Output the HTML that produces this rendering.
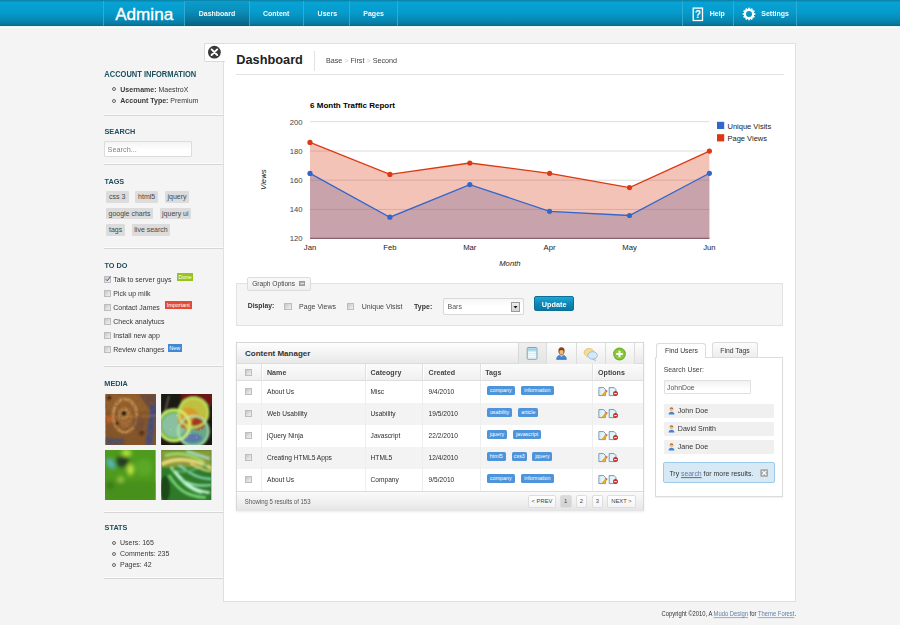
<!DOCTYPE html>
<html><head><meta charset="utf-8"><title>Admina</title>
<style>
*{box-sizing:border-box;margin:0;padding:0}
html,body{width:900px;height:625px;overflow:hidden}
body{background:#f4f4f4;font-family:"Liberation Sans",Arial,sans-serif;color:#333;position:relative}
.a{position:absolute}
.t{position:absolute;line-height:1;white-space:nowrap}
#hdr{position:absolute;left:0;top:0;width:900px;height:26px;background:linear-gradient(#0b86ac 0,#0b86ac 1px,#08a2d4 2px,#059ccd 12px,#0789b5 20px,#077ca4 23.5px,#0a6881 26px)}
#hdr2{position:absolute;left:0;top:26px;width:900px;height:2px;background:linear-gradient(#e6f4f4,#fff)}
.sep{position:absolute;top:1px;width:1px;height:25px;background:#3cb2da;opacity:.75}
.nav{position:absolute;top:0;height:26px;color:#fff;font-weight:bold;font-size:7px;line-height:1}
.navt{position:absolute;top:10.1px;white-space:nowrap;color:#f4fbfd;transform:scaleY(1.08);transform-origin:0 85%}
#act{position:absolute;left:185px;top:1px;width:64px;height:25px;background:linear-gradient(#0a9dcc 0,#0a8fbb 40%,#0a7398 78%,#095e7a 100%)}
.h3{position:absolute;font-size:7.3px;font-weight:bold;color:#1c4f5e;line-height:1;white-space:nowrap}
.ssep{position:absolute;left:104px;width:120px;height:2px;border-top:1px solid #fbfbfb;border-bottom:1px solid #d6d6d6}
.li{position:absolute;font-size:7px;line-height:1;white-space:nowrap;color:#383838}
.bul{position:absolute;width:4px;height:4px;border:1px solid #666;border-radius:50%}
.chip{position:absolute;height:11.5px;background:#dcdcdc;border-radius:1px;font-size:7px;line-height:11.5px;color:#484848;text-align:center;white-space:nowrap}
.cb{position:absolute;width:7.5px;height:7.5px;border:1px solid #bdbdbd;background:linear-gradient(135deg,#c6c6c6,#e2e2e2 60%,#efefef)}
.todo{position:absolute;font-size:7px;line-height:1;color:#363636;white-space:nowrap}
.badge{position:absolute;height:7.5px;font-size:5.5px;line-height:8.4px;color:#fff;text-align:center;white-space:nowrap}
#main{position:absolute;left:223px;top:42.5px;width:573px;height:559.5px;background:#fff;border:1px solid #e0e0e0}
.th{font-size:7.1px;font-weight:bold;color:#444}
.td{font-size:6.6px;color:#2c2c2c}
.tag{position:absolute;height:9px;background:#4d94db;border-radius:1.5px;color:#fff;font-size:5.3px;line-height:9px;text-align:center;white-space:nowrap}
.pg{position:absolute;top:495.4px;height:12.2px;border:1px solid #dedede;border-radius:2px;font-size:5.8px;line-height:10.6px;text-align:center;color:#444;white-space:nowrap}
.t,.li,.todo,.h3{transform:scaleY(1.1);transform-origin:0 85%}
.nos{transform:none!important}
</style></head><body>
<!-- HEADER -->
<div id="hdr"></div><div id="hdr2"></div>
<div id="act"></div>
<div class="sep" style="left:103px"></div>
<div class="sep" style="left:184px"></div>
<div class="sep" style="left:249px"></div>
<div class="sep" style="left:303px"></div>
<div class="sep" style="left:349px"></div>
<div class="sep" style="left:397px"></div>
<div class="sep" style="left:682px"></div>
<div class="sep" style="left:733px"></div>
<div class="sep" style="left:796px"></div>
<div class="t nos" style="left:115.2px;top:5.5px;font-size:17.1px;color:#fff;-webkit-text-stroke:0.35px #fff">Admina</div>
<div class="nav"><span class="navt" style="left:198.7px">Dashboard</span><span class="navt" style="left:263px">Content</span><span class="navt" style="left:317.6px">Users</span><span class="navt" style="left:363.3px">Pages</span><span class="navt" style="left:709.7px">Help</span><span class="navt" style="left:761.3px">Settings</span></div>
<!-- help icon -->
<svg class="a" style="left:692px;top:6.5px" width="12" height="15" viewBox="0 0 12 15"><rect x="1.2" y="1.1" width="9.3" height="12.4" fill="none" stroke="#fff" stroke-width="1.3"/><text x="5.9" y="11" font-family="Liberation Sans" font-weight="bold" font-size="10" fill="#fff" text-anchor="middle">?</text></svg>
<!-- gear icon -->
<svg class="a" style="left:741.7px;top:6.8px" width="14" height="14" viewBox="-7 -7 14 14"><g fill="#fff"><rect x="-0.85" y="-6.3" width="1.7" height="2.5" transform="rotate(0)"/><rect x="-0.85" y="-6.3" width="1.7" height="2.5" transform="rotate(30)"/><rect x="-0.85" y="-6.3" width="1.7" height="2.5" transform="rotate(60)"/><rect x="-0.85" y="-6.3" width="1.7" height="2.5" transform="rotate(90)"/><rect x="-0.85" y="-6.3" width="1.7" height="2.5" transform="rotate(120)"/><rect x="-0.85" y="-6.3" width="1.7" height="2.5" transform="rotate(150)"/><rect x="-0.85" y="-6.3" width="1.7" height="2.5" transform="rotate(180)"/><rect x="-0.85" y="-6.3" width="1.7" height="2.5" transform="rotate(210)"/><rect x="-0.85" y="-6.3" width="1.7" height="2.5" transform="rotate(240)"/><rect x="-0.85" y="-6.3" width="1.7" height="2.5" transform="rotate(270)"/><rect x="-0.85" y="-6.3" width="1.7" height="2.5" transform="rotate(300)"/><rect x="-0.85" y="-6.3" width="1.7" height="2.5" transform="rotate(330)"/></g><circle r="4.1" fill="none" stroke="#fff" stroke-width="2.2"/></svg>

<!-- SIDEBAR -->
<div class="h3" style="left:104.3px;top:71.1px;font-size:7.5px">ACCOUNT INFORMATION</div>
<div class="bul" style="left:112px;top:86.9px"></div>
<div class="li" style="left:120.3px;top:85.6px"><b>Username:</b> MaestroX</div>
<div class="bul" style="left:112px;top:98.7px"></div>
<div class="li" style="left:120.3px;top:96.7px"><b>Account Type:</b> Premium</div>
<div class="ssep" style="top:114px"></div>

<div class="h3" style="left:104.5px;top:127.9px">SEARCH</div>
<div class="a" style="left:104px;top:141px;width:88px;height:16px;border:1px solid #dcdcdc;background:linear-gradient(#f4f4f4,#fff 60%);border-radius:1px"></div>
<div class="t" style="left:107.6px;top:145.7px;font-size:7.3px;color:#858585">Search...</div>
<div class="ssep" style="top:163px"></div>

<div class="h3" style="left:104.5px;top:177.8px">TAGS</div>
<div class="chip" style="left:106px;top:191px;width:22.5px">css 3</div>
<div class="chip" style="left:135px;top:191px;width:23.3px">html5</div>
<div class="chip" style="left:165px;top:191px;width:24px">jquery</div>
<div class="chip" style="left:106px;top:207.7px;width:47px">google charts</div>
<div class="chip" style="left:160px;top:207.7px;width:30.6px">jquery ui</div>
<div class="chip" style="left:106px;top:224.2px;width:19.3px">tags</div>
<div class="chip" style="left:132px;top:224.2px;width:38px">live search</div>
<div class="ssep" style="top:247px"></div>

<div class="h3" style="left:104.5px;top:261.5px">TO DO</div>
<div class="cb" style="left:103.5px;top:275.5px"></div>
<svg class="a" style="left:103.5px;top:275px" width="8" height="8" viewBox="0 0 8 8"><path d="M1.8 4.2 L3.3 5.8 L6.4 1.6" fill="none" stroke="#44557a" stroke-width="1"/></svg>
<div class="todo" style="left:113.2px;top:275.8px">Talk to server guys</div>
<div class="badge" style="left:177px;top:273px;width:16px;background:#97c41b">Done</div>
<div class="cb" style="left:103.5px;top:289.5px"></div>
<div class="todo" style="left:113.2px;top:289.8px">Pick up milk</div>
<div class="cb" style="left:103.5px;top:303.5px"></div>
<div class="todo" style="left:113.2px;top:303.8px">Contact James</div>
<div class="badge" style="left:165px;top:301.3px;width:26.5px;background:#e34b36">Important</div>
<div class="cb" style="left:103.5px;top:317.5px"></div>
<div class="todo" style="left:113.2px;top:317.8px">Check analytucs</div>
<div class="cb" style="left:103.5px;top:331.5px"></div>
<div class="todo" style="left:113.2px;top:331.8px">Install new app</div>
<div class="cb" style="left:103.5px;top:345.5px"></div>
<div class="todo" style="left:113.2px;top:345.8px">Review changes</div>
<div class="badge" style="left:168px;top:344px;width:13.5px;background:#3f8ad6">New</div>
<div class="ssep" style="top:365px"></div>

<div class="h3" style="left:104.3px;top:379.7px">MEDIA</div>
<svg class="a" style="left:104.8px;top:394.2px" width="51.5" height="51" viewBox="0 0 52 52">
<defs><filter id="bl1" x="-20%" y="-20%" width="140%" height="140%"><feGaussianBlur stdDeviation="1"/></filter><filter id="tx1"><feTurbulence type="fractalNoise" baseFrequency="0.35" numOctaves="2" seed="3"/><feColorMatrix values="0 0 0 0 0.2  0 0 0 0 0.1  0 0 0 0 0.02  0 0 0 1.2 -0.45"/></filter><clipPath id="cp1"><rect width="52" height="52"/></clipPath></defs>
<g clip-path="url(#cp1)"><rect width="52" height="52" fill="#86542a"/>
<g filter="url(#bl1)">
<rect x="0" y="0" width="52" height="18" fill="#9a6430" opacity=".7"/>
<path d="M34 0 L52 0 L52 26 Z" fill="#4a3a4a" opacity=".6"/>
<path d="M46 12 L52 10 L48 52 L41 52Z" fill="#2c4a9a" opacity=".8"/>
<path d="M0 44 L20 46 L18 52 L0 52Z" fill="#2a4a8a" opacity=".6"/>
<ellipse cx="20" cy="22" rx="12" ry="17" fill="none" stroke="#d8a060" stroke-width="2"/>
<ellipse cx="20" cy="24" rx="8" ry="11" fill="#b0743a" opacity=".7"/>
<circle cx="19" cy="20" r="5" fill="#d8a058"/>
<circle cx="19" cy="20" r="3.2" fill="#1a0f08"/>
<circle cx="12" cy="30" r="2.2" fill="#3a1a0a"/>
<circle cx="37" cy="40" r="2.2" fill="#3a1a0a"/>
<circle cx="4" cy="4" r="2.5" fill="#3a2010"/>
<path d="M0 24 L52 22" stroke="#d89850" stroke-width="1" opacity=".6"/>
<circle cx="4" cy="26" r="4" fill="#c8642a" opacity=".8"/>
<ellipse cx="34" cy="30" rx="6" ry="8" fill="#6a4a3a" opacity=".6"/>
</g>
<rect width="52" height="52" filter="url(#tx1)"/>
</g></svg>
<svg class="a" style="left:160.8px;top:394.2px" width="51.2" height="51" viewBox="0 0 52 52">
<defs><filter id="bl2" x="-20%" y="-20%" width="140%" height="140%"><feGaussianBlur stdDeviation="1.1"/></filter><clipPath id="cp2"><rect width="52" height="52"/></clipPath></defs>
<g clip-path="url(#cp2)"><rect width="52" height="52" fill="#1a1a12"/>
<g filter="url(#bl2)">
<rect x="20" y="-2" width="34" height="14" fill="#6a1414"/>
<circle cx="13" cy="32" r="17" fill="#78b850"/>
<circle cx="33" cy="19" r="16" fill="#c0c040"/>
<circle cx="33" cy="38" r="16" fill="#6aa888"/>
<circle cx="13" cy="32" r="12" fill="#8ac0a0"/>
<circle cx="28" cy="25" r="11" fill="#d89a2a"/>
<circle cx="38" cy="30" r="7" fill="#a03a20"/>
<circle cx="23" cy="30" r="5" fill="#c05a20"/>
<ellipse cx="32" cy="45" rx="10" ry="5" fill="#5a7aa8"/>
<circle cx="13" cy="32" r="16" fill="none" stroke="#d8f870" stroke-width="2.4"/>
<circle cx="33" cy="19" r="15" fill="none" stroke="#c0e860" stroke-width="2"/>
<circle cx="33" cy="38" r="15.5" fill="none" stroke="#b0f0b0" stroke-width="1.8"/>
<path d="M8 2 L4 18" stroke="#c0b8a0" stroke-width="0.8"/>
</g>
<g fill="#fff" opacity=".7"><circle cx="20" cy="28" r=".5"/><circle cx="30" cy="40" r=".5"/><circle cx="36" cy="44" r=".5"/><circle cx="10" cy="36" r=".5"/><circle cx="26" cy="34" r=".5"/><circle cx="40" cy="36" r=".5"/><circle cx="16" cy="22" r=".5"/><circle cx="42" cy="24" r=".5"/></g>
</g></svg>
<svg class="a" style="left:105.2px;top:449.6px" width="50.8" height="50.8" viewBox="0 0 52 52">
<defs><filter id="bl3" x="-20%" y="-20%" width="140%" height="140%"><feGaussianBlur stdDeviation="2"/></filter><clipPath id="cp3"><rect width="52" height="52"/></clipPath></defs>
<g clip-path="url(#cp3)"><rect width="52" height="52" fill="#4e9a1c"/>
<g filter="url(#bl3)">
<rect x="0" y="32" width="52" height="20" fill="#47901a"/>
<ellipse cx="18" cy="12" rx="7" ry="6" fill="#243e24"/>
<ellipse cx="6" cy="14" rx="3" ry="6" fill="#5ab8e0" transform="rotate(-30 6 14)"/>
<ellipse cx="26" cy="20" rx="3" ry="6" fill="#d0f048"/>
<ellipse cx="22" cy="3" rx="5" ry="3" fill="#c0ee40"/>
<circle cx="16" cy="30" r="3" fill="#a0d048"/>
<circle cx="40" cy="18" r="9" fill="#5aa828"/>
<circle cx="5" cy="36" r="4" fill="#3a7a18"/>
</g></g></svg>
<svg class="a" style="left:161px;top:449.6px" width="50.8" height="50.4" viewBox="0 0 52 52">
<defs><filter id="bl4" x="-20%" y="-20%" width="140%" height="140%"><feGaussianBlur stdDeviation="1.1"/></filter><clipPath id="cp4"><rect width="52" height="52"/></clipPath></defs>
<g clip-path="url(#cp4)"><rect width="52" height="52" fill="#2f7a2a"/>
<g filter="url(#bl4)">
<rect x="0" y="0" width="52" height="18" fill="#8a9a3a"/>
<path d="M0 15 C14 7 34 9 52 19" stroke="#e8d878" stroke-width="3.5" fill="none"/>
<path d="M4 6 C16 2 30 4 44 12" stroke="#9ae870" stroke-width="2.2" fill="none"/>
<path d="M26 1 L50 9" stroke="#b0f4e0" stroke-width="1.8" fill="none"/>
<path d="M10 18 C20 30 26 40 42 44" stroke="#a0f0a0" stroke-width="2.8" fill="none"/>
<path d="M14 22 C24 34 32 42 50 44" stroke="#c8f8e0" stroke-width="2.6" fill="none"/>
<path d="M8 26 C16 40 26 48 46 49" stroke="#7ad87a" stroke-width="2.8" fill="none"/>
<path d="M18 16 C28 22 36 30 52 30" stroke="#80d8b8" stroke-width="2.4" fill="none"/>
<path d="M20 30 C30 36 40 38 52 36" stroke="#98e8c0" stroke-width="2" fill="none"/>
<path d="M12 20 C24 26 34 20 50 14" stroke="#5ab060" stroke-width="2" fill="none"/>
<ellipse cx="4" cy="40" rx="5" ry="13" fill="#1a4a14"/>
<path d="M30 14 C38 18 44 22 52 22" stroke="#f0e080" stroke-width="1.6" fill="none"/>
</g></g></svg>
<div class="ssep" style="top:511px"></div>

<div class="h3" style="left:104.6px;top:524.2px">STATS</div>
<div class="bul" style="left:112px;top:540.5px"></div>
<div class="li" style="left:120px;top:538.9px">Users: 165</div>
<div class="bul" style="left:112px;top:551.6px"></div>
<div class="li" style="left:120px;top:550.3px">Comments: 235</div>
<div class="bul" style="left:112px;top:562.5px"></div>
<div class="li" style="left:120px;top:561.3px">Pages: 42</div>
<div class="ssep" style="top:577px"></div>

<!-- MAIN PANEL -->
<div id="main"></div>

<!-- close tab -->
<div class="a" style="left:204px;top:43px;width:21px;height:19px;background:#fff;border:1px solid #dcdcdc;border-right:none;border-radius:2px 0 0 2px"></div>
<svg class="a" style="left:207px;top:45px" width="15" height="15" viewBox="0 0 15 15"><circle cx="7.4" cy="7.2" r="6.4" fill="#3a3a3a"/><path d="M4.6 4.4 L10.2 10 M10.2 4.4 L4.6 10" stroke="#fff" stroke-width="1.9" stroke-linecap="round"/></svg>
<div class="t nos" style="left:236.3px;top:54.3px;font-size:12.75px;font-weight:bold;color:#222">Dashboard</div>
<div class="a" style="left:314px;top:50.5px;width:1px;height:20.5px;background:#e2e2e2"></div>
<div class="t" style="left:325.9px;top:56.7px;font-size:7.2px;color:#444">Base <span style="color:#c8c8c8">&gt;</span> First <span style="color:#c8c8c8">&gt;</span> Second</div>
<div class="a" style="left:235.5px;top:74px;width:548px;height:1px;background:#e2e2e2"></div>

<!-- CHART -->
<svg class="a" style="left:240px;top:95px" width="555" height="180" viewBox="240 95 555 180" font-family="Liberation Sans, Arial, sans-serif">
<text x="310.1" y="108.3" font-size="8" font-weight="bold" fill="#000">6 Month Traffic Report</text>
<g stroke="#dcdcdc" stroke-width="1">
<line x1="310" y1="121.7" x2="709.5" y2="121.7"/><line x1="310" y1="151" x2="709.5" y2="151"/><line x1="310" y1="180.2" x2="709.5" y2="180.2"/><line x1="310" y1="209.4" x2="709.5" y2="209.4"/>
</g>
<line x1="310" y1="238.3" x2="709.5" y2="238.3" stroke="#8a6a74" stroke-width="1.2"/>
<polygon fill="#3366cc" fill-opacity="0.3" points="310,238.5 310,173.4 389.9,217.2 469.8,184.6 549.6,211.3 629.5,215.5 709.4,173.3 709.4,238.5"/>
<polygon fill="#dc3912" fill-opacity="0.3" points="310,238.5 310,142.4 389.9,174.4 469.8,163 549.6,173.3 629.5,187.6 709.4,151.1 709.4,238.5"/>
<polyline fill="none" stroke="#3366cc" stroke-width="1.3" points="310,173.4 389.9,217.2 469.8,184.6 549.6,211.3 629.5,215.5 709.4,173.3"/>
<polyline fill="none" stroke="#dc3912" stroke-width="1.3" points="310,142.4 389.9,174.4 469.8,163 549.6,173.3 629.5,187.6 709.4,151.1"/>
<g fill="#3366cc"><circle cx="310" cy="173.4" r="2.6"/><circle cx="389.9" cy="217.2" r="2.6"/><circle cx="469.8" cy="184.6" r="2.6"/><circle cx="549.6" cy="211.3" r="2.6"/><circle cx="629.5" cy="215.5" r="2.6"/><circle cx="709.4" cy="173.3" r="2.6"/></g>
<g fill="#dc3912"><circle cx="310" cy="142.4" r="2.6"/><circle cx="389.9" cy="174.4" r="2.6"/><circle cx="469.8" cy="163" r="2.6"/><circle cx="549.6" cy="173.3" r="2.6"/><circle cx="629.5" cy="187.6" r="2.6"/><circle cx="709.4" cy="151.1" r="2.6"/></g>
<g font-size="7.7" fill="#444" text-anchor="end">
<text x="302.5" y="124.5">200</text><text x="302.5" y="153.8">180</text><text x="302.5" y="183">160</text><text x="302.5" y="212.2">140</text><text x="302.5" y="241.3">120</text>
</g>
<g font-size="7.7" fill="#222" text-anchor="middle">
<text x="310" y="250">Jan</text><text x="389.9" y="250">Feb</text><text x="469.8" y="250">Mar</text><text x="549.6" y="250">Apr</text><text x="629.5" y="250">May</text><text x="709.4" y="250">Jun</text>
</g>
<text x="509.9" y="265.6" font-size="7.7" font-style="italic" fill="#222" text-anchor="middle">Month</text>
<text transform="translate(265.8,179.6) rotate(-90)" font-size="7.8" font-style="italic" fill="#222" text-anchor="middle">Views</text>
<rect x="717" y="121.8" width="7.2" height="7.2" fill="#3366cc"/>
<rect x="717" y="134.2" width="7.2" height="7.2" fill="#dc3912"/>
<g font-size="7.5" fill="#222"><text x="727.5" y="128.5">Unique Visits</text><text x="727.5" y="140.7">Page Views</text></g>
</svg>

<!-- GRAPH OPTIONS -->
<div class="a" style="left:236px;top:283px;width:547px;height:42.5px;background:#f5f5f5;border:1px solid #e2e2e2"></div>
<div class="a" style="left:247px;top:276.7px;width:63.6px;height:14.6px;background:linear-gradient(#f9f9f9,#efefef);border:1px solid #dcdcdc;border-radius:2px"></div>
<div class="t" style="left:252.2px;top:281.1px;font-size:6.6px;color:#444">Graph Options</div>
<div class="a" style="left:299.4px;top:281.2px;width:5.8px;height:5.2px;background:#b0b0b0;border:1px solid #9a9a9a"></div>
<div class="a" style="left:300.6px;top:283.3px;width:3.4px;height:0.8px;background:#ddd"></div>
<div class="t" style="left:247.8px;top:303.4px;font-size:6.8px;font-weight:bold;color:#333">Display:</div>
<div class="cb" style="left:284.4px;top:302.6px"></div>
<div class="t" style="left:299.1px;top:303.4px;font-size:7px;color:#444">Page Views</div>
<div class="cb" style="left:346.6px;top:302.6px"></div>
<div class="t" style="left:361.8px;top:303.4px;font-size:7px;color:#444">Unique Visist</div>
<div class="t" style="left:414.1px;top:303.4px;font-size:7px;font-weight:bold;color:#333">Type:</div>
<div class="a" style="left:443px;top:298.3px;width:80.7px;height:16.4px;background:linear-gradient(#f6f6f6,#fff 50%);border:1px solid #d8d8d8;border-radius:2px"></div>
<div class="t" style="left:447.5px;top:303.3px;font-size:7px;color:#555">Bars</div>
<div class="a" style="left:511.3px;top:302px;width:9px;height:9.7px;background:linear-gradient(#eee,#d4d4d4);border:1px solid #9a9a9a"></div>
<svg class="a" style="left:513.3px;top:305.5px" width="5" height="3" viewBox="0 0 5 3"><path d="M0.5 0 L4.5 0 L2.5 2.6Z" fill="#111"/></svg>
<div class="a" style="left:534.2px;top:296.2px;width:40px;height:15px;background:linear-gradient(#1ea6d6,#0c86b5 55%,#0a76a1);border:1px solid #0b6f96;border-radius:2px"></div>
<div class="t" style="left:534.2px;top:300.6px;width:40px;text-align:center;font-size:7.3px;font-weight:bold;color:#fff">Update</div>

<!-- CONTENT MANAGER -->
<div class="a" style="left:236px;top:341.8px;width:407.5px;height:169px;background:#fff;border:1px solid #d8d8d8;box-shadow:0 1px 2px rgba(0,0,0,.08)"></div>
<div class="a" style="left:237px;top:342.8px;width:405.5px;height:21.6px;background:linear-gradient(#fefefe,#f1f1f1 60%,#e8e8e8);border-bottom:1px solid #dcdcdc"></div>
<div class="t nos" style="left:245px;top:349.9px;font-size:8px;font-weight:bold;color:#333">Content Manager</div>
<div class="a" style="left:517.7px;top:343.2px;width:28.7px;height:21px;background:linear-gradient(#efefef,#e4e4e4);border-left:1px solid #d8d8d8"></div>
<div class="a" style="left:546.4px;top:343.2px;width:88px;height:21px;background:linear-gradient(#fefefe,#ececec)"></div>
<div class="a" style="left:546.4px;top:343.2px;width:1px;height:21px;background:#dcdcdc"></div>
<div class="a" style="left:576.4px;top:343.2px;width:1px;height:21px;background:#dcdcdc"></div>
<div class="a" style="left:605.4px;top:343.2px;width:1px;height:21px;background:#dcdcdc"></div>
<div class="a" style="left:634.4px;top:343.2px;width:1px;height:21px;background:#dcdcdc"></div>
<div class="a" style="left:237px;top:364.4px;width:405.5px;height:16.2px;background:linear-gradient(#fbfbfb,#f0f0f0);border-bottom:1px solid #dedede"></div>
<div class="a" style="left:261px;top:364.4px;width:2px;height:16px;border-left:1px solid #dfdfdf;background:#fff"></div>
<div class="a" style="left:365px;top:364.4px;width:2px;height:16px;border-left:1px solid #dfdfdf;background:#fff"></div>
<div class="a" style="left:422px;top:364.4px;width:2px;height:16px;border-left:1px solid #dfdfdf;background:#fff"></div>
<div class="a" style="left:480px;top:364.4px;width:2px;height:16px;border-left:1px solid #dfdfdf;background:#fff"></div>
<div class="a" style="left:592px;top:364.4px;width:2px;height:16px;border-left:1px solid #dfdfdf;background:#fff"></div>
<div class="cb" style="left:245px;top:369.4px;width:7px;height:7px"></div>
<div class="t th" style="left:267px;top:370.3px">Name</div>
<div class="t th" style="left:370.6px;top:370.3px">Cateogry</div>
<div class="t th" style="left:428.6px;top:370.3px">Created</div>
<div class="t th" style="left:485.3px;top:370.3px">Tags</div>
<div class="t th" style="left:598.1px;top:370.3px">Options</div>
<div class="cb" style="left:245px;top:387.8px;width:7px;height:7px"></div>
<div class="t td" style="left:267px;top:388.95px">About Us</div>
<div class="t td" style="left:370.6px;top:388.95px">Misc</div>
<div class="t td" style="left:428.6px;top:388.95px">9/4/2010</div>
<div class="tag" style="left:487px;top:386.3px;width:27.6px">company</div>
<div class="tag" style="left:521px;top:386.3px;width:32.7px">information</div>
<svg class="a ico" style="left:597.5px;top:386.8px" width="20" height="10" viewBox="0 0 20 10"><path d="M0.9 0.6H5.6L7.4 2.4V8.6H0.9Z" fill="#e2f4fb" stroke="#6f8f98" stroke-width="0.9"/><path d="M1.8 1.6V7.8" stroke="#b8d8ec" stroke-width="0.8"/><path d="M4.3 8.6L8.5 4.2" stroke="#e9a321" stroke-width="2.1"/><path d="M8.2 4.5L9.2 3.5" stroke="#c0506a" stroke-width="1.6"/><g transform="translate(10.3 0)"><path d="M0.9 0.6H5.8L7.6 2.4V8.6H0.9Z" fill="#e2f4fb" stroke="#6f8f98" stroke-width="0.9"/><circle cx="7.2" cy="6.6" r="2.5" fill="#c9302c"/><rect x="5.9" y="6.1" width="2.6" height="1" fill="#fff"/></g></svg>
<div class="a" style="left:237px;top:402.6px;width:405.5px;height:22px;background:#f3f3f3"></div>
<div class="cb" style="left:245px;top:409.8px;width:7px;height:7px"></div>
<div class="t td" style="left:267px;top:410.95px">Web Usability</div>
<div class="t td" style="left:370.6px;top:410.95px">Usability</div>
<div class="t td" style="left:428.6px;top:410.95px">19/5/2010</div>
<div class="tag" style="left:487px;top:408.3px;width:25.0px">usability</div>
<div class="tag" style="left:518.4px;top:408.3px;width:19.9px">article</div>
<svg class="a ico" style="left:597.5px;top:408.8px" width="20" height="10" viewBox="0 0 20 10"><path d="M0.9 0.6H5.6L7.4 2.4V8.6H0.9Z" fill="#e2f4fb" stroke="#6f8f98" stroke-width="0.9"/><path d="M1.8 1.6V7.8" stroke="#b8d8ec" stroke-width="0.8"/><path d="M4.3 8.6L8.5 4.2" stroke="#e9a321" stroke-width="2.1"/><path d="M8.2 4.5L9.2 3.5" stroke="#c0506a" stroke-width="1.6"/><g transform="translate(10.3 0)"><path d="M0.9 0.6H5.8L7.6 2.4V8.6H0.9Z" fill="#e2f4fb" stroke="#6f8f98" stroke-width="0.9"/><circle cx="7.2" cy="6.6" r="2.5" fill="#c9302c"/><rect x="5.9" y="6.1" width="2.6" height="1" fill="#fff"/></g></svg>
<div class="cb" style="left:245px;top:431.8px;width:7px;height:7px"></div>
<div class="t td" style="left:267px;top:432.95px">jQuery Ninja</div>
<div class="t td" style="left:370.6px;top:432.95px">Javascript</div>
<div class="t td" style="left:428.6px;top:432.95px">22/2/2010</div>
<div class="tag" style="left:487px;top:430.3px;width:19.9px">jquery</div>
<div class="tag" style="left:513.3px;top:430.3px;width:27.6px">javascript</div>
<svg class="a ico" style="left:597.5px;top:430.8px" width="20" height="10" viewBox="0 0 20 10"><path d="M0.9 0.6H5.6L7.4 2.4V8.6H0.9Z" fill="#e2f4fb" stroke="#6f8f98" stroke-width="0.9"/><path d="M1.8 1.6V7.8" stroke="#b8d8ec" stroke-width="0.8"/><path d="M4.3 8.6L8.5 4.2" stroke="#e9a321" stroke-width="2.1"/><path d="M8.2 4.5L9.2 3.5" stroke="#c0506a" stroke-width="1.6"/><g transform="translate(10.3 0)"><path d="M0.9 0.6H5.8L7.6 2.4V8.6H0.9Z" fill="#e2f4fb" stroke="#6f8f98" stroke-width="0.9"/><circle cx="7.2" cy="6.6" r="2.5" fill="#c9302c"/><rect x="5.9" y="6.1" width="2.6" height="1" fill="#fff"/></g></svg>
<div class="a" style="left:237px;top:446.6px;width:405.5px;height:22px;background:#f3f3f3"></div>
<div class="cb" style="left:245px;top:453.8px;width:7px;height:7px"></div>
<div class="t td" style="left:267px;top:454.95px">Creating HTML5 Apps</div>
<div class="t td" style="left:370.6px;top:454.95px">HTML5</div>
<div class="t td" style="left:428.6px;top:454.95px">12/4/2010</div>
<div class="tag" style="left:487px;top:452.3px;width:18.6px">html5</div>
<div class="tag" style="left:512px;top:452.3px;width:14.6px">css3</div>
<div class="tag" style="left:532.4px;top:452.3px;width:20.0px">jquery</div>
<svg class="a ico" style="left:597.5px;top:452.8px" width="20" height="10" viewBox="0 0 20 10"><path d="M0.9 0.6H5.6L7.4 2.4V8.6H0.9Z" fill="#e2f4fb" stroke="#6f8f98" stroke-width="0.9"/><path d="M1.8 1.6V7.8" stroke="#b8d8ec" stroke-width="0.8"/><path d="M4.3 8.6L8.5 4.2" stroke="#e9a321" stroke-width="2.1"/><path d="M8.2 4.5L9.2 3.5" stroke="#c0506a" stroke-width="1.6"/><g transform="translate(10.3 0)"><path d="M0.9 0.6H5.8L7.6 2.4V8.6H0.9Z" fill="#e2f4fb" stroke="#6f8f98" stroke-width="0.9"/><circle cx="7.2" cy="6.6" r="2.5" fill="#c9302c"/><rect x="5.9" y="6.1" width="2.6" height="1" fill="#fff"/></g></svg>
<div class="cb" style="left:245px;top:475.8px;width:7px;height:7px"></div>
<div class="t td" style="left:267px;top:476.95px">About Us</div>
<div class="t td" style="left:370.6px;top:476.95px">Company</div>
<div class="t td" style="left:428.6px;top:476.95px">9/5/2010</div>
<div class="tag" style="left:487px;top:474.3px;width:27.6px">company</div>
<div class="tag" style="left:521px;top:474.3px;width:32.7px">information</div>
<svg class="a ico" style="left:597.5px;top:474.8px" width="20" height="10" viewBox="0 0 20 10"><path d="M0.9 0.6H5.6L7.4 2.4V8.6H0.9Z" fill="#e2f4fb" stroke="#6f8f98" stroke-width="0.9"/><path d="M1.8 1.6V7.8" stroke="#b8d8ec" stroke-width="0.8"/><path d="M4.3 8.6L8.5 4.2" stroke="#e9a321" stroke-width="2.1"/><path d="M8.2 4.5L9.2 3.5" stroke="#c0506a" stroke-width="1.6"/><g transform="translate(10.3 0)"><path d="M0.9 0.6H5.8L7.6 2.4V8.6H0.9Z" fill="#e2f4fb" stroke="#6f8f98" stroke-width="0.9"/><circle cx="7.2" cy="6.6" r="2.5" fill="#c9302c"/><rect x="5.9" y="6.1" width="2.6" height="1" fill="#fff"/></g></svg>
<div class="a" style="left:261px;top:380.6px;width:1px;height:110px;background:#eeeeee"></div>
<div class="a" style="left:365px;top:380.6px;width:1px;height:110px;background:#eeeeee"></div>
<div class="a" style="left:422px;top:380.6px;width:1px;height:110px;background:#eeeeee"></div>
<div class="a" style="left:480px;top:380.6px;width:1px;height:110px;background:#eeeeee"></div>
<div class="a" style="left:592px;top:380.6px;width:1px;height:110px;background:#eeeeee"></div>
<div class="a" style="left:237px;top:490.6px;width:405.5px;height:20px;background:linear-gradient(#fafafa,#ececec 70%,#e4e4e4);border-top:1px solid #dcdcdc"></div>
<div class="t" style="left:244.8px;top:498.6px;font-size:6px;color:#555">Showing 5 results of 153</div>
<div class="pg" style="left:527.9px;width:28.2px;background:linear-gradient(#fff,#f4f4f4)">&lt; PREV</div>
<div class="pg" style="left:559.7px;width:12.0px;background:linear-gradient(#dcdcdc,#d2d2d2)">1</div>
<div class="pg" style="left:575.6px;width:11.6px;background:linear-gradient(#fff,#f4f4f4)">2</div>
<div class="pg" style="left:591.5px;width:11.6px;background:linear-gradient(#fff,#f4f4f4)">3</div>
<div class="pg" style="left:606.7px;width:29.6px;background:linear-gradient(#fff,#f4f4f4)">NEXT &gt;</div>

<!-- tab icons -->
<svg class="a" style="left:525px;top:346px" width="14" height="15" viewBox="0 0 14 15"><defs><linearGradient id="dg" x1="0" y1="0" x2="0" y2="1"><stop offset="0" stop-color="#bfe3f2"/><stop offset="1" stop-color="#e6f6fb"/></linearGradient></defs><rect x="2.2" y="1.5" width="9.8" height="11.8" rx="0.8" fill="url(#dg)" stroke="#7fa9b9" stroke-width="1"/><rect x="3.2" y="2.5" width="7.8" height="2" fill="#9fd0e6"/><path d="M3.4 6.4H10.8M3.4 8.4H10.8M3.4 10.4H10.8" stroke="#fff" stroke-width="0.8"/></svg>
<svg class="a" style="left:554.5px;top:346px" width="13" height="15" viewBox="0 0 13 15"><path d="M1.6 13.4C1.6 10.4 3.6 8.9 6.5 8.9S11.4 10.4 11.4 13.4Z" fill="#3f86d4" stroke="#2d66aa" stroke-width="0.6"/><path d="M4.6 9.2L6.5 11L8.4 9.2" fill="#bfe0f8"/><ellipse cx="6.5" cy="5" rx="3.1" ry="3.7" fill="#8a4a16"/><ellipse cx="6.5" cy="5.9" rx="2.1" ry="2.5" fill="#f0b870"/><path d="M4.3 4.6C4.6 3 5.4 2.5 6.5 2.5S8.4 3 8.7 4.6C7.8 3.9 5.2 3.9 4.3 4.6Z" fill="#7a3e10"/></svg>
<svg class="a" style="left:582.5px;top:346.5px" width="16" height="15" viewBox="0 0 16 15"><ellipse cx="6" cy="5.4" rx="4.9" ry="3.9" fill="#f8dc94" stroke="#d9b560" stroke-width="0.7"/><path d="M3.5 8.3L2.8 11L5.6 9Z" fill="#f8dc94"/><ellipse cx="9.6" cy="8.4" rx="4.8" ry="3.7" fill="#d3e9f8" stroke="#86b8d8" stroke-width="0.8"/><path d="M11.6 11.6L12.6 13.8L9.6 12Z" fill="#d3e9f8" stroke="#86b8d8" stroke-width="0.6"/></svg>
<svg class="a" style="left:612px;top:346.5px" width="15" height="15" viewBox="0 0 15 15"><circle cx="7.5" cy="7" r="6.4" fill="#6fb324"/><circle cx="7.5" cy="7" r="5.3" fill="#86c83a"/><path d="M7.5 3.8V10.2M4.3 7H10.7" stroke="#fff" stroke-width="2"/></svg>

<!-- RIGHT TAB PANEL -->
<div class="a" style="left:712.2px;top:341.5px;width:46.2px;height:16px;background:linear-gradient(#fcfcfc,#ececec);border:1px solid #dcdcdc;border-bottom:none;border-radius:3px 3px 0 0"></div>
<div class="t" style="left:720.3px;top:347.9px;font-size:6.8px;color:#333">Find Tags</div>
<div class="a" style="left:655px;top:357.2px;width:128px;height:139.8px;background:#fff;border:1px solid #dcdcdc;box-shadow:0 1px 1px rgba(0,0,0,.05)"></div>
<div class="a" style="left:656.3px;top:343px;width:50px;height:15.3px;background:#fff;border:1px solid #dcdcdc;border-bottom:none;border-radius:3px 3px 0 0"></div>
<div class="t" style="left:665.1px;top:348.2px;font-size:6.8px;color:#333">Find Users</div>
<div class="t" style="left:663.7px;top:367.2px;font-size:6.9px;color:#444">Search User:</div>
<div class="a" style="left:663.7px;top:380px;width:87.1px;height:14.3px;background:linear-gradient(#f2f2f2,#fff 70%);border:1px solid #e0e0e0;border-radius:1px"></div>
<div class="t" style="left:667.1px;top:384.8px;font-size:6.9px;color:#555">JohnDoe</div>
<div class="a" style="left:663.7px;top:403.5px;width:110.4px;height:14.4px;background:#f0f0f0;border-radius:1px"></div>
<svg class="a" style="left:667.6px;top:406.7px" width="7" height="8" viewBox="0 0 7 8"><path d="M0.6 7.6C0.6 5.6 1.8 4.8 3.5 4.8S6.4 5.6 6.4 7.6Z" fill="#3d86d6"/><circle cx="3.5" cy="2.6" r="1.8" fill="#f0c08a"/><path d="M1.7 2.6C1.6 1 2.4 0.4 3.5 0.4S5.4 1 5.3 2.6C5 1.8 4.4 1.5 3.5 1.6S2 1.8 1.7 2.6Z" fill="#8c4a16"/></svg>
<div class="t" style="left:677.8px;top:407.5px;font-size:7.1px;color:#333">John Doe</div>
<div class="a" style="left:663.7px;top:421.7px;width:110.4px;height:14.4px;background:#f0f0f0;border-radius:1px"></div>
<svg class="a" style="left:667.6px;top:424.9px" width="7" height="8" viewBox="0 0 7 8"><path d="M0.6 7.6C0.6 5.6 1.8 4.8 3.5 4.8S6.4 5.6 6.4 7.6Z" fill="#3d86d6"/><circle cx="3.5" cy="2.6" r="1.8" fill="#f0c08a"/><path d="M1.7 2.6C1.6 1 2.4 0.4 3.5 0.4S5.4 1 5.3 2.6C5 1.8 4.4 1.5 3.5 1.6S2 1.8 1.7 2.6Z" fill="#8c4a16"/></svg>
<div class="t" style="left:677.8px;top:425.7px;font-size:7.1px;color:#333">David Smith</div>
<div class="a" style="left:663.7px;top:439.9px;width:110.4px;height:14.4px;background:#f0f0f0;border-radius:1px"></div>
<svg class="a" style="left:667.6px;top:443.1px" width="7" height="8" viewBox="0 0 7 8"><path d="M0.6 7.6C0.6 5.6 1.8 4.8 3.5 4.8S6.4 5.6 6.4 7.6Z" fill="#3d86d6"/><circle cx="3.5" cy="2.6" r="1.8" fill="#f0c08a"/><path d="M1.7 2.6C1.6 1 2.4 0.4 3.5 0.4S5.4 1 5.3 2.6C5 1.8 4.4 1.5 3.5 1.6S2 1.8 1.7 2.6Z" fill="#8c4a16"/></svg>
<div class="t" style="left:677.8px;top:443.9px;font-size:7.1px;color:#333">Jane Doe</div>
<div class="a" style="left:663.2px;top:462.4px;width:111.4px;height:20.3px;background:#d8e9f6;border:1px solid #9ccbe9;border-radius:2px"></div>
<div class="t" style="left:669.4px;top:470.6px;font-size:6.9px;color:#333">Try <span style="color:#6079a0;text-decoration:underline">search</span> for more results.</div>
<svg class="a" style="left:759.8px;top:468.8px" width="8.6" height="8" viewBox="0 0 8.6 8"><rect x="0.3" y="0.3" width="8" height="7.4" rx="0.8" fill="#a6a6a6"/><path d="M2.3 2L6.3 6M6.3 2L2.3 6" stroke="#fff" stroke-width="1.3"/></svg>

<!-- FOOTER -->
<div class="t" style="right:104px;top:610px;font-size:5.85px;color:#333;line-height:1;padding-top:0;margin-top:1.5px">Copyright &copy;2010, A <span style="color:#5f80ad;text-decoration:underline;text-decoration-color:#9fb3cc">Mudo Design</span> for <span style="color:#5f80ad;text-decoration:underline;text-decoration-color:#9fb3cc">Theme Forest</span>.</div>
</body></html>
